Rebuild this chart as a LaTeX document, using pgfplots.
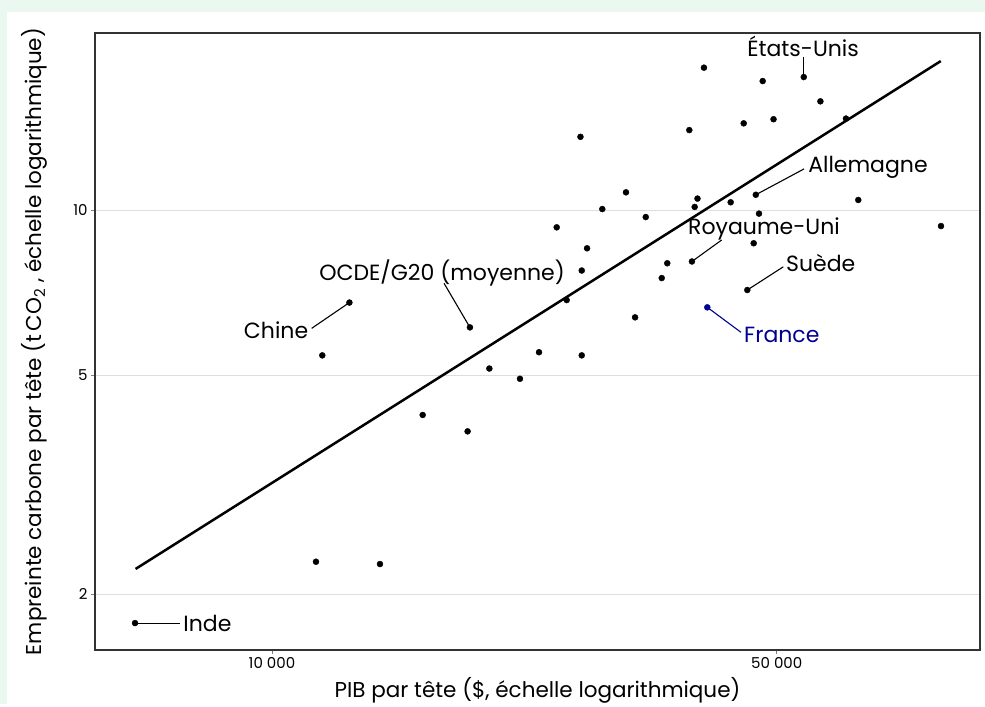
\documentclass[border=0pt]{standalone}
\usepackage{fontspec}
\setmainfont{Poppins}
\usepackage{pgfplots}
\usepackage{pgfplotstable}
\pgfplotsset{compat=1.18}
\definecolor{bggreen}{RGB}{234,248,239}
\definecolor{frblue}{RGB}{0,0,145}
\pgfplotstableread{
x y
6462 1.771
11506 2.290
14110 2.268
16170 4.236
18660 3.956
12800 6.785
18800 6.115
11740 5.438
20000 5.146
22050 4.930
23430 5.510
26850 5.438
25590 6.857
26850 7.761
27310 8.518
24790 9.300
26740 13.59
28670 10.04
30920 10.77
32930 9.71
31830 6.378
34650 7.520
35270 8.000
38160 8.060
37840 13.98
38490 10.13
38840 10.49
39650 18.16
43170 10.33
45000 14.38
45520 7.152
46460 8.70
46770 10.66
47250 9.85
47810 17.17
49490 14.63
54500 17.46
57470 15.77
62350 14.67
64850 10.43
84420 9.35
}\pts
\pgfplotstableread{
x y
40070 6.651
}\france
\begin{document}
\begin{tikzpicture}[x=1pt,y=1pt]
\fill[bggreen] (0,0) rectangle (985,704);
\fill[white] (7,0) rectangle (985,692);
\begin{axis}[
  at={(95pt,54pt)}, anchor=south west, scale only axis,
  width=885pt, height=617pt,
  xmode=log, ymode=log,
  xmin=5688, xmax=95610, ymin=1.582, ymax=21.0,
  xtick={10000,50000}, xticklabels={10~000,50~000},
  ytick={2,5,10}, yticklabels={2,5,10},
  xminorticks=false, yminorticks=false,
  xtick pos=lower, ytick pos=left,
  ymajorgrids, grid style={color=black!13, line width=1pt},
  axis line style={color=black!80, line width=1.3pt},
  tick align=outside, major tick length=4pt,
  tick style={color=gray, line width=0.8pt},
  ticklabel style={font=\fontsize{15}{18}\selectfont},
  xlabel={PIB par tête (\$, échelle logarithmique)},
  ylabel={Empreinte carbone par tête (t\,CO\textsubscript{2} , échelle logarithmique)},
  label style={font=\fontsize{21.5}{25}\selectfont},
  xlabel style={at={(axis description cs:0.5,-0.0648)}, anchor=center},
  ylabel style={at={(axis description cs:-0.0689,0.5)}, anchor=center},
  clip=false,
]
\addplot[black, line width=2.5pt] coordinates {(6474,2.222) (84360,18.67)};
\addplot[only marks, mark=*, mark size=3pt, black] table {\pts};
\addplot[only marks, mark=*, mark size=3pt, frblue] table {\france};
% leader lines
\draw[line width=1.1pt] (axis cs:54500,19.0) -- (axis cs:54500,17.46);
\draw[line width=1.1pt] (axis cs:54550,11.88) -- (axis cs:46770,10.66);
\draw[line width=1.1pt] (axis cs:41950,8.82) -- (axis cs:38160,8.06);
\draw[line width=1.1pt] (axis cs:51060,7.885) -- (axis cs:45520,7.152);
\draw[line width=1.1pt, frblue] (axis cs:44620,5.989) -- (axis cs:40070,6.651);
\draw[line width=1.1pt] (axis cs:17310,7.357) -- (axis cs:18800,6.115);
\draw[line width=1.1pt] (axis cs:11350,6.091) -- (axis cs:12800,6.785);
\draw[line width=1.1pt] (axis cs:6462,1.771) -- (axis cs:7455,1.771);
% labels
\begin{scope}[every node/.style={inner sep=0pt, font=\fontsize{22}{26}\selectfont}]
\node[anchor=center] at (axis cs:54380,19.88) {États-Unis};
\node[anchor=west] at (axis cs:55250,11.94) {Allemagne};
\node[anchor=center] at (axis cs:48010,9.235) {Royaume-Uni};
\node[anchor=west] at (axis cs:51500,8.02) {Suède};
\node[anchor=west, text=frblue] at (axis cs:45050,5.922) {France};
\node[anchor=center] at (axis cs:17200,7.671) {OCDE/G20 (moyenne)};
\node[anchor=east] at (axis cs:11230,6.030) {Chine};
\node[anchor=west] at (axis cs:7536,1.769) {Inde};
\end{scope}
\end{axis}
\end{tikzpicture}
\end{document}
